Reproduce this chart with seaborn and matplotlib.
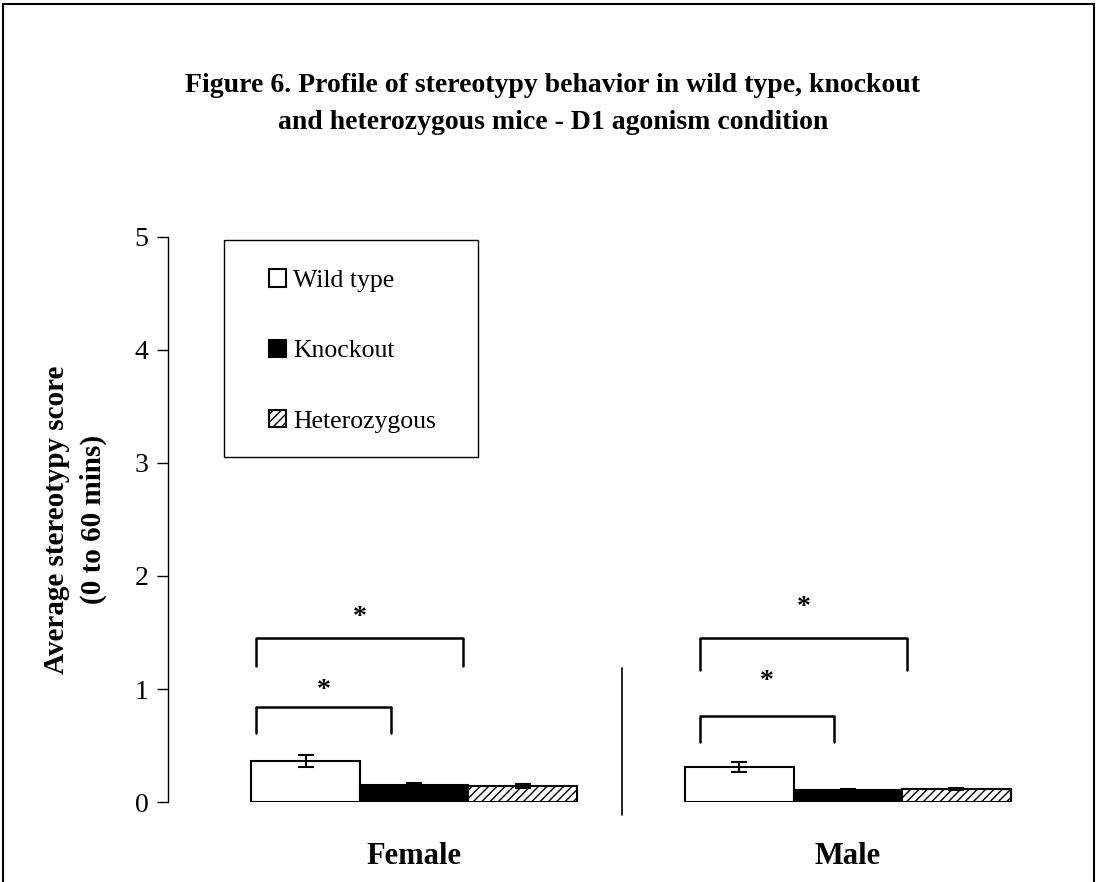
import numpy as np
import pandas as pd
import matplotlib
matplotlib.use('Agg')
import matplotlib.pyplot as plt
import seaborn as sns
from matplotlib.patches import Patch, Rectangle

sexes = ['Female', 'Male']
genotypes = ['Wild type', 'Knockout', 'Heterozygous']
female_means = [0.36, 0.15, 0.14]
female_err = [0.053, 0.015, 0.015]
male_means = [0.31, 0.105, 0.115]
male_err = [0.045, 0.01, 0.01]

# significance brackets: sex, genotype pair, bracket top, leg bottom, star height,
# and small x offsets of the bracket ends from the bar centres
brackets = [
    ('Female', 0, 1, 0.84, 0.61, 1.03, -0.115, -0.053),
    ('Female', 0, 2, 1.45, 1.20, 1.67, -0.115, -0.137),
    ('Male', 0, 1, 0.76, 0.53, 1.11, -0.091, -0.032),
    ('Male', 0, 2, 1.45, 1.17, 1.76, -0.091, -0.114),
]

df = pd.DataFrame({
    'sex': np.repeat(sexes, 3),
    'genotype': genotypes * 2,
    'score': female_means + male_means,
    'err': female_err + male_err,
})

sns.set_style('white')
plt.rcParams['font.family'] = ['Liberation Serif', 'DejaVu Serif']
plt.rcParams['text.color'] = 'black'
plt.rcParams['axes.labelcolor'] = 'black'
plt.rcParams['ytick.color'] = 'black'
plt.rcParams['xtick.color'] = 'black'

fig = plt.figure(figsize=(10.97, 8.82), dpi=100)
ax = fig.add_axes([0.1531, 0.0907, 0.8177, 0.6406])

sns.barplot(data=df, x='sex', y='score', hue='genotype', order=sexes,
            hue_order=genotypes, errorbar=None, width=0.75,
            palette=['white', 'black', 'white'], edgecolor='black',
            linewidth=1.5, legend=False, ax=ax)

bars = ax.patches[:6]
# seaborn orders patches by hue level, then category
centers = {}
for i, g in enumerate(genotypes):
    for j, s in enumerate(sexes):
        p = bars[i * 2 + j]
        if g == 'Heterozygous':
            p.set_hatch('////')
        cx = p.get_x() + p.get_width() / 2
        centers[(s, i)] = cx
        row = df[(df.sex == s) & (df.genotype == g)].iloc[0]
        ax.errorbar(cx, row.score, yerr=row.err, color='black', capsize=6,
                    elinewidth=1.5, capthick=1.5, fmt='none')

for s, a, b, top, bot, star, da, db in brackets:
    x0, x1 = centers[(s, a)] + da, centers[(s, b)] + db
    ax.plot([x0, x0, x1, x1], [bot, top, top, bot], color='black', lw=1.8)
    ax.text((x0 + x1) / 2, star - 0.04, '*', ha='center', va='center',
            fontsize=20, fontweight='bold')

ax.plot([0.48, 0.48], [-0.115, 1.19], color='black', lw=1.2, clip_on=False)

ax.set_xlim(-0.567, 1.5)
ax.set_ylim(0, 5)
ax.set_yticks(range(6))
ax.tick_params(axis='y', labelsize=20, length=8, width=1, direction='out',
               left=True, pad=6, colors='black')
ax.set_xticks([])
ax.set_xlabel('')
for spine in ['top', 'right', 'bottom']:
    ax.spines[spine].set_visible(False)
ax.spines['left'].set_color('black')
ax.spines['left'].set_linewidth(1)
ax.set_ylabel('Average stereotypy score\n(0 to 60 mins)', fontsize=21,
              fontweight='bold', labelpad=20, linespacing=1.45)

for j, s in enumerate(sexes):
    ax.text(j, -0.48, s, ha='center', va='center', fontsize=22,
            fontweight='bold')

handles = [Patch(facecolor='white', edgecolor='black', lw=1.5),
           Patch(facecolor='black', edgecolor='black', lw=1.5),
           Patch(facecolor='white', edgecolor='black', hatch='////', lw=1.5)]
leg = ax.legend(handles, genotypes, loc='upper left',
                bbox_to_anchor=(0.1126, 0.943), fontsize=18.5,
                handlelength=0.66, handleheight=0.66, handletextpad=0.27,
                labelspacing=1.86, borderpad=0, borderaxespad=0,
                frameon=False)
ax.add_patch(Rectangle((0.0624, 0.6106), 0.283, 0.3841, transform=ax.transAxes,
                       fill=False, edgecolor='black', lw=1, clip_on=False))

fig.text(0.504, 0.903, 'Figure 6. Profile of stereotypy behavior in wild type, knockout',
         ha='center', va='center', fontsize=20, fontweight='bold')
fig.text(0.504, 0.861, 'and heterozygous mice - D1 agonism condition',
         ha='center', va='center', fontsize=20, fontweight='bold')

fig.patches.append(Rectangle((0.003, -0.05), 0.994, 1.046, transform=fig.transFigure,
                             fill=False, edgecolor='black', lw=1.5))

fig.savefig('out.png', dpi=100)
